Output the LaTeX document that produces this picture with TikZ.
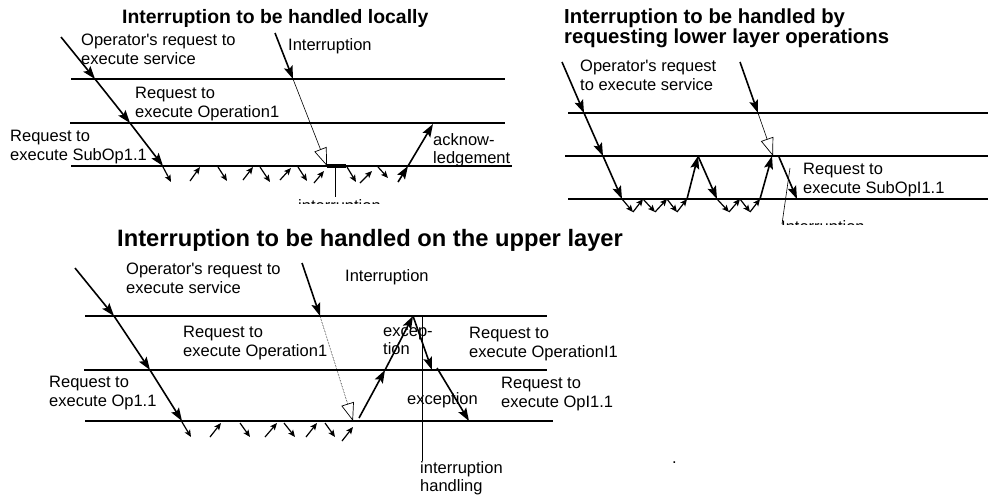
\documentclass[tikz,border=0pt]{standalone}
\usepackage{fontspec}
\setmainfont{Liberation Sans}
\usetikzlibrary{arrows.meta}
\begin{document}
\begin{tikzpicture}[x=1pt,y=-1pt,
  layerline/.style={line width=1.2pt},
  bigarr/.style={line width=1.6pt,-{Stealth[length=13pt,width=9pt,inset=2.5pt]}},
  smallarr/.style={line width=1.2pt,-{Stealth[length=7pt,width=6pt,inset=1.5pt]}},
  openarr/.style={line width=0.6pt,-{Triangle[open,length=18pt,width=13pt,fill=white,line width=0.7pt]}},
  thinline/.style={line width=0.6pt},
  txt/.style={anchor=north west,inner sep=0pt,align=left,font=\fontsize{16.5}{18.5}\selectfont},
  ttl/.style={anchor=north west,inner sep=0pt,align=left,font=\bfseries\fontsize{19.4}{20}\selectfont}]
\useasboundingbox (0,0) rectangle (988,499);

% ================= Diagram 1 =================
\node[ttl] (t1) at (122,9) {Interruption to be handled locally};
\coordinate (d1l1a) at (71,79);  \coordinate (d1l1b) at (505,79);
\coordinate (d1l2a) at (70,123); \coordinate (d1l2b) at (505,123);
\coordinate (d1l3a) at (71,166); \coordinate (d1l3b) at (512,166);
\draw[layerline] (d1l1a) -- (d1l1b);
\draw[layerline] (d1l2a) -- (d1l2b);
\draw[layerline] (d1l3a) -- (d1l3b);
\coordinate (d1o0) at (61,37); \coordinate (d1o1) at (95,79);
\coordinate (d1o2) at (130,123); \coordinate (d1o3) at (163,166);
\draw[bigarr] (d1o0) -- (d1o1);
\draw[bigarr] (d1o1) -- (d1o2);
\draw[bigarr] (d1o2) -- (d1o3);
\coordinate (d1i0) at (275,33); \coordinate (d1i1) at (293,79); \coordinate (d1i2) at (327,166);
\draw[bigarr] (d1i0) -- (d1i1);
\draw[openarr] (d1i1) -- (d1i2);
\foreach \k/\ax/\ay/\bx/\by in {1/163/167/171/182, 2/190/181/200/167, 3/218/167/227/181,
   4/243/180/253/167, 5/260/167/270/182, 6/280/180/291/168, 7/298/167/307/181,
   8/314/183/324/171, 9/347/167/356/182, 10/360/183/372/171, 11/378/167/388/178}{
  \coordinate (d1s\k a) at (\ax,\ay); \coordinate (d1s\k b) at (\bx,\by);
  \draw[smallarr] (d1s\k a) -- (d1s\k b);
}
\coordinate (d1t0) at (327,166); \coordinate (d1t1) at (346,166);
\draw[line width=3.5pt] (d1t0) -- (d1t1);
\coordinate (d1v0) at (335,166); \coordinate (d1v1) at (335,197);
\draw[thinline] (d1v0) -- (d1v1);
\coordinate (d1a0) at (398,182); \coordinate (d1a1) at (408,166); \coordinate (d1a2) at (433,124);
\draw[bigarr] (d1a0) -- (d1a1);
\draw[bigarr] (d1a1) -- (d1a2);
\node[txt] (d1x1) at (81,34) {Operator\textquotesingle s request to\\execute service};
\node[txt] (d1x2) at (288,38) {Interruption};
\node[txt] (d1x3) at (135,87) {Request to\\execute Operation1};
\node[txt] (d1x4) at (10,130) {Request to\\execute SubOp1.1};
\node[txt] (d1x5) at (433,133) {acknow-\\ledgement};
\begin{scope}
  \clip (290,190) rectangle (400,203);
  \node[txt] (d1x6) at (298,199) {interruption};
\end{scope}

% ================= Diagram 2 =================
\node[ttl,font=\bfseries\fontsize{20.3}{20}\selectfont] (t2) at (564,9) {Interruption to be handled by\\requesting lower layer operations};
\coordinate (d2l1a) at (568,113); \coordinate (d2l1b) at (988,113);
\coordinate (d2l2a) at (565,156); \coordinate (d2l2b) at (988,156);
\coordinate (d2l3a) at (568,199); \coordinate (d2l3b) at (988,199);
\draw[layerline] (d2l1a) -- (d2l1b);
\draw[layerline] (d2l2a) -- (d2l2b);
\draw[layerline] (d2l3a) -- (d2l3b);
\coordinate (d2o0) at (562,62); \coordinate (d2o1) at (584,113);
\coordinate (d2o2) at (603,156); \coordinate (d2o3) at (622,199);
\draw[bigarr] (d2o0) -- (d2o1);
\draw[bigarr] (d2o1) -- (d2o2);
\draw[bigarr] (d2o2) -- (d2o3);
\coordinate (d2i0) at (740,62); \coordinate (d2i1) at (758,113); \coordinate (d2i2) at (773,156);
\draw[bigarr] (d2i0) -- (d2i1);
\draw[openarr] (d2i1) -- (d2i2);
\coordinate (z1) at (633,212); \coordinate (z2) at (643,199);
\coordinate (z3) at (655,212); \coordinate (z4) at (667,199);
\coordinate (z5) at (677,212); \coordinate (z6) at (687,199);
\coordinate (b1) at (698,156); \coordinate (b2) at (717,199);
\coordinate (z7) at (729,212); \coordinate (z8) at (740,199);
\coordinate (z9) at (750,212); \coordinate (z10) at (760,199);
\coordinate (b3) at (772,156);
\draw[smallarr] (d2o3) -- (z1);
\draw[smallarr] (z1) -- (z2);
\draw[smallarr] (z2) -- (z3);
\draw[smallarr] (z3) -- (z4);
\draw[smallarr] (z4) -- (z5);
\draw[smallarr] (z5) -- (z6);
\draw[bigarr] (z6) -- (b1);
\draw[bigarr] (b1) -- (b2);
\draw[smallarr] (b2) -- (z7);
\draw[smallarr] (z7) -- (z8);
\draw[smallarr] (z8) -- (z9);
\draw[smallarr] (z9) -- (z10);
\draw[bigarr] (z10) -- (b3);
\coordinate (d2r0) at (779,157); \coordinate (d2r1) at (797,199);
\draw[bigarr] (d2r0) -- (d2r1);
\coordinate (d2v0) at (790,168); \coordinate (d2v1) at (782,224);
\draw[thinline] (d2v0) -- (d2v1);
\node[txt] (d2x1) at (580,60) {Operator\textquotesingle s request\\to execute service};
\node[txt] (d2x2) at (803,163) {Request to\\execute SubOpI1.1};
\begin{scope}
  \clip (770,205) rectangle (900,224);
  \node[txt] (d2x3) at (781,220) {Interruption};
\end{scope}

% ================= Diagram 3 =================
\node[ttl,font=\bfseries\fontsize{23.7}{26}\selectfont] (t3) at (117,229) {Interruption to be handled on the upper layer};
\coordinate (d3l1a) at (85,316); \coordinate (d3l1b) at (547,316);
\coordinate (d3l2a) at (84,370); \coordinate (d3l2b) at (547,370);
\coordinate (d3l3a) at (85,421); \coordinate (d3l3b) at (553,421);
\draw[layerline] (d3l1a) -- (d3l1b);
\draw[layerline] (d3l2a) -- (d3l2b);
\draw[layerline] (d3l3a) -- (d3l3b);
\coordinate (d3o0) at (75,268); \coordinate (d3o1) at (114,316);
\coordinate (d3o2) at (150,370); \coordinate (d3o3) at (182,421);
\draw[bigarr] (d3o0) -- (d3o1);
\draw[bigarr] (d3o1) -- (d3o2);
\draw[bigarr] (d3o2) -- (d3o3);
\coordinate (d3i0) at (302,263); \coordinate (d3i1) at (320,316); \coordinate (d3i2) at (353,421);
\draw[bigarr] (d3i0) -- (d3i1);
\draw[openarr,densely dotted] (d3i1) -- (d3i2);
\foreach \k/\ax/\ay/\bx/\by in {1/182/422/191/437, 2/210/437/221/423, 3/240/423/250/437,
   4/265/437/277/423, 5/284/423/295/437, 6/306/437/317/423, 7/325/423/335/437,
   8/342/441/353/427}{
  \coordinate (d3s\k a) at (\ax,\ay); \coordinate (d3s\k b) at (\bx,\by);
  \draw[smallarr] (d3s\k a) -- (d3s\k b);
}
\coordinate (d3e0) at (359,418); \coordinate (d3e1) at (385,370); \coordinate (d3e2) at (413,316);
\draw[bigarr] (d3e0) -- (d3e1);
\draw[bigarr] (d3e1) -- (d3e2);
\coordinate (d3f1) at (432,370); \coordinate (d3f2) at (437,368); \coordinate (d3f3) at (469,421);
\draw[bigarr] (d3e2) -- (d3f1);
\draw[bigarr] (d3f2) -- (d3f3);
\coordinate (d3v0) at (422,316); \coordinate (d3v1) at (422,461);
\draw[thinline] (d3v0) -- (d3v1);
\node[txt] (d3x1) at (126,263) {Operator\textquotesingle s request to\\execute service};
\node[txt] (d3x2) at (345,269) {Interruption};
\node[txt] (d3x3) at (183,326) {Request to\\execute Operation1};
\node[txt] (d3x4) at (49,376) {Request to\\execute Op1.1};
\node[txt] (d3x5) at (383,327) {excep-\\tion};
\node[txt] (d3x6) at (407,392) {exception};
\node[txt] (d3x7) at (469,327) {Request to\\execute OperationI1};
\node[txt] (d3x8) at (501,377) {Request to\\execute OpI1.1};
\node[txt] (d3x9) at (420,461) {interruption\\handling};
\node[txt] (dot) at (672,462) {.};
\end{tikzpicture}
\end{document}
